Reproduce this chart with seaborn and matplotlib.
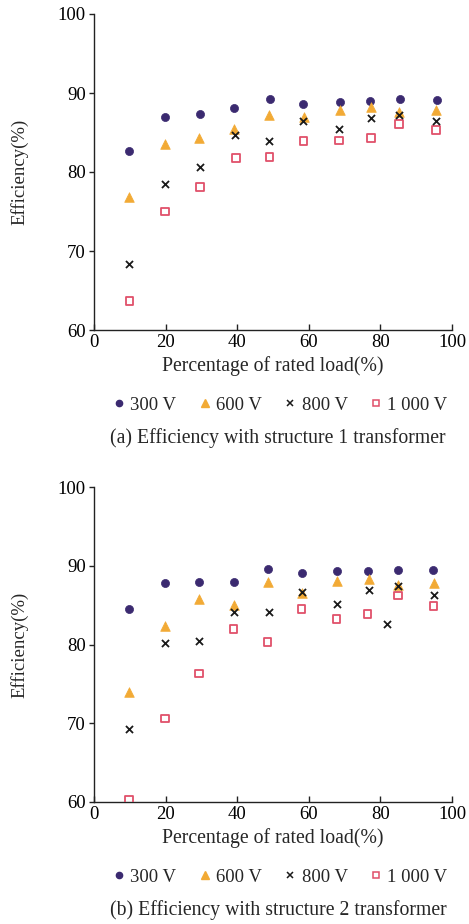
import numpy as np
import pandas as pd
import matplotlib
matplotlib.use("Agg")
import matplotlib.pyplot as plt
import seaborn as sns
from matplotlib.lines import Line2D

sns.set_style("ticks")
plt.rcParams['font.family'] = ['Liberation Serif', 'DejaVu Serif']

# ---- data: structure 1 transformer ----
a_x_300 = [9.9, 19.8, 29.6, 39.2, 49.1, 58.5, 68.6, 77.2, 85.5, 95.8]
a_y_300 = [82.6, 86.9, 87.3, 88.1, 89.2, 88.6, 88.9, 89.0, 89.2, 89.1]
a_x_600 = [9.9, 19.9, 29.3, 39.0, 48.8, 58.6, 68.6, 77.3, 85.1, 95.6]
a_y_600 = [76.8, 83.5, 84.3, 85.4, 87.2, 87.0, 87.8, 88.2, 87.6, 87.8]
a_x_800 = [9.9, 19.9, 29.6, 39.5, 48.9, 58.5, 68.3, 77.3, 85.2, 95.6]
a_y_800 = [68.4, 78.5, 80.6, 84.7, 83.9, 86.4, 85.4, 86.8, 87.2, 86.5]
a_x_1000 = [9.9, 19.9, 29.6, 39.6, 49.0, 58.5, 68.5, 77.4, 85.2, 95.6]
a_y_1000 = [63.7, 75.0, 78.1, 81.8, 81.9, 83.9, 84.0, 84.3, 86.1, 85.3]

# ---- data: structure 2 transformer ----
b_x_300 = [9.7, 19.8, 29.3, 39.1, 48.7, 58.0, 67.9, 76.4, 84.8, 94.8]
b_y_300 = [84.5, 87.8, 87.9, 88.0, 89.6, 89.1, 89.3, 89.3, 89.5, 89.5]
b_x_600 = [9.8, 19.9, 29.4, 39.2, 48.7, 58.2, 68.0, 76.7, 84.9, 95.1]
b_y_600 = [74.0, 82.3, 85.8, 85.0, 87.9, 86.6, 88.1, 88.3, 87.5, 87.8]
b_x_800 = [9.8, 19.7, 29.4, 39.2, 48.8, 58.2, 67.8, 76.7, 81.8, 85.0, 95.0]
b_y_800 = [69.3, 80.2, 80.4, 84.1, 84.1, 86.7, 85.2, 86.9, 82.6, 87.4, 86.3]
b_x_1000 = [9.8, 19.9, 29.4, 39.0, 48.5, 58.0, 67.7, 76.4, 84.9, 94.8]
b_y_1000 = [60.3, 70.6, 76.3, 82.0, 80.3, 84.5, 83.2, 83.9, 86.2, 84.9]

series_labels = ["300 V", "600 V", "800 V", "1 000 V"]
x_ticks = [0, 20, 40, 60, 80, 100]
y_ticks = [60, 70, 80, 90, 100]
captions = ["(a) Efficiency with structure 1 transformer",
            "(b) Efficiency with structure 2 transformer"]

C_PURPLE = "#3b2a70"
C_ORANGE = "#f2aa35"
C_BLACK = "#1a1a1a"
C_RED = "#e0506a"

W, H = 469, 924
fig = plt.figure(figsize=(W / 100, H / 100), dpi=100)

def px_axes(left, top, right, bottom):
    return fig.add_axes([left / W, 1 - bottom / H, (right - left) / W, (bottom - top) / H])

FS_TICK = 13.5
FS_XLAB = 14.2
FS_YLAB = 13.5
FS_LEG = 13.5
FS_CAP = 14.2

def draw(ax, data):
    (x3, y3), (x6, y6), (x8, y8), (x10, y10) = data
    sns.scatterplot(x=x3, y=y3, ax=ax, marker="o", s=34, color=C_PURPLE,
                    edgecolor=C_PURPLE, linewidth=0.5, zorder=3)
    sns.scatterplot(x=x6, y=y6, ax=ax, marker="^", s=48, color=C_ORANGE,
                    edgecolor=C_ORANGE, linewidth=0.5, zorder=3)
    sns.scatterplot(x=x8, y=y8, ax=ax, marker="x", s=26, color=C_BLACK,
                    linewidth=1.3, zorder=4)
    sns.scatterplot(x=x10, y=y10, ax=ax, marker="s", s=30, facecolor="none",
                    edgecolor=C_RED, linewidth=1.3, zorder=3)
    ax.set_xlim(0, 100)
    ax.set_ylim(60, 100)
    ax.set_xticks(x_ticks)
    ax.set_yticks(y_ticks)
    sns.despine(ax=ax)
    for s in ["left", "bottom"]:
        ax.spines[s].set_color("#222222")
        ax.spines[s].set_linewidth(1.0)
    ax.tick_params(axis="x", direction="in", length=4.5, width=1.0,
                   color="#222222", labelsize=FS_TICK, labelcolor="black", pad=2.7)
    ax.tick_params(axis="y", direction="out", length=3.3, width=1.0,
                   color="#222222", labelsize=FS_TICK, labelcolor="black", pad=2.5)
    ax.set_xlabel("Percentage of rated load(%)", fontsize=FS_XLAB)
    ax.set_ylabel("Efficiency(%)", fontsize=FS_YLAB)
    ax.xaxis.set_label_coords(0.5, -(356 - 330) / 316)
    ax.yaxis.set_label_coords(-(94 - 28) / 358, 0.5)

def legend(y_px):
    handles = [
        Line2D([], [], ls="none", marker="o", ms=4.5, mfc=C_PURPLE, mec=C_PURPLE),
        Line2D([], [], ls="none", marker="^", ms=6.3, mfc=C_ORANGE, mec=C_ORANGE),
        Line2D([], [], ls="none", marker="x", ms=4.4, mec=C_BLACK, mew=1.1),
        Line2D([], [], ls="none", marker="s", ms=4.8, mfc="none", mec=C_RED, mew=1.1),
    ]
    fig.legend(handles, series_labels, loc="center", bbox_to_anchor=(280.5 / W, 1 - y_px / H),
               ncol=4, frameon=False, fontsize=FS_LEG, handlelength=0.6, handletextpad=0.3,
               columnspacing=1.22, borderpad=0, borderaxespad=0)

ax1 = px_axes(94, 14, 452, 330)
draw(ax1, [(a_x_300, a_y_300), (a_x_600, a_y_600), (a_x_800, a_y_800), (a_x_1000, a_y_1000)])
legend(405)
fig.text(278 / W, 1 - 438 / H, captions[0], ha="center", va="center", fontsize=FS_CAP)

ax2 = px_axes(94, 487, 452, 802)
draw(ax2, [(b_x_300, b_y_300), (b_x_600, b_y_600), (b_x_800, b_y_800), (b_x_1000, b_y_1000)])
legend(877)
fig.text(278 / W, 1 - 910 / H, captions[1], ha="center", va="center", fontsize=FS_CAP)

fig.savefig("out.png", dpi=100)
